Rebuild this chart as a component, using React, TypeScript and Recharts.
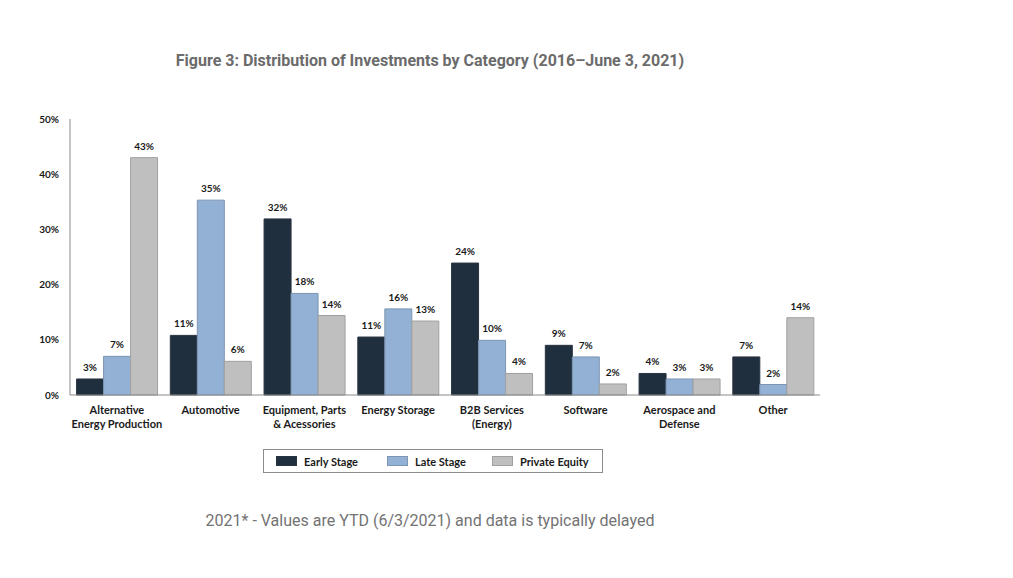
import React from "react";
import { BarChart, Bar, XAxis, YAxis, Legend, LabelList } from "recharts";

const categories = [
  "Alternative\nEnergy Production",
  "Automotive",
  "Equipment, Parts\n& Acessories",
  "Energy Storage",
  "B2B Services\n(Energy)",
  "Software",
  "Aerospace and\nDefense",
  "Other",
];
const earlyStage = [2.9, 10.8, 31.9, 10.5, 23.9, 9.0, 3.9, 6.9];
const lateStage = [7.0, 35.3, 18.4, 15.6, 9.9, 6.9, 2.9, 1.9];
const privateEquity = [43.0, 6.1, 14.4, 13.4, 3.9, 2.0, 2.9, 14.0];
const yTicks = [0, 10, 20, 30, 40, 50];
const seriesNames = ["Early Stage", "Late Stage", "Private Equity"];

const data = categories.map((c, i) => ({
  category: c,
  early: earlyStage[i],
  late: lateStage[i],
  pe: privateEquity[i],
}));

const FONT = "Lato, 'Open Sans', sans-serif";

const XTick = (props: any) => {
  const { x, y, payload } = props;
  const lines = String(payload.value).split("\n");
  return (
    <text x={x} y={y} textAnchor="middle" fontFamily={FONT} fontWeight={700} fontSize={11} fill="#1a1a1a">
      {lines.map((l: string, i: number) => (
        <tspan key={i} x={x} dy={i === 0 ? 11 : 14}>
          {l}
        </tspan>
      ))}
    </text>
  );
};

const colors = ["#1f2f3e", "#93b1d4", "#bfbfbf"];
const strokes = ["#2a3440", "#7d95b3", "#a0a0a0"];
const legendLefts = [12, 123, 228];

const LegendContent = () => (
  <div
    style={{
      position: "relative",
      width: 338,
      height: 22,
      border: "1px solid #8c8c8c",
      fontFamily: FONT,
      fontWeight: 700,
      fontSize: 11,
      color: "#1a1a1a",
    }}
  >
    {seriesNames.map((n, i) => (
      <div
        key={n}
        style={{ position: "absolute", left: legendLefts[i], top: 0, height: 22, display: "flex", alignItems: "center", whiteSpace: "nowrap" }}
      >
        <span
          style={{
            display: "inline-block",
            width: 19,
            height: 8,
            background: colors[i],
            border: `1px solid ${strokes[i]}`,
            marginRight: 7,
          }}
        />
        {n}
      </div>
    ))}
  </div>
);

const fmt = (v: any) => `${Math.round(Number(v))}%`;

export default function App() {
  return (
    <div style={{ position: "absolute", left: 0, top: 0, width: 1013, height: 578, background: "#fff" }}>
      <div
        style={{
          position: "absolute",
          left: 0,
          width: 860,
          top: 51,
          textAlign: "center",
          fontFamily: "Roboto, sans-serif",
          fontWeight: 700,
          fontSize: 16,
          color: "#6b6b6b",
        }}
      >
        Figure 3: Distribution of Investments by Category (2016–June 3, 2021)
      </div>
      <BarChart
        width={1013}
        height={578}
        data={data}
        margin={{ top: 119, right: 193, bottom: 105, left: 0 }}
        barCategoryGap="7%"
        barGap={0}
      >
        <YAxis
          domain={[0, 50]}
          ticks={yTicks}
          width={70}
          tickFormatter={(v) => `${v}%`}
          axisLine={{ stroke: "#8a8a8a" }}
          tickLine={false}
          tickSize={0}
          tickMargin={11}
          tick={{ fontFamily: FONT, fontWeight: 700, fontSize: 10, fill: "#1a1a1a" }}
          interval={0}
        />
        <XAxis
          dataKey="category"
          height={54}
          interval={0}
          axisLine={{ stroke: "#8a8a8a" }}
          tickLine={false}
          tick={<XTick />}
        />
        <Legend
          verticalAlign="bottom"
          height={24}
          content={<LegendContent />}
          wrapperStyle={{ left: 263, width: 340 }}
        />
        <Bar dataKey="early" name={seriesNames[0]} fill={colors[0]} stroke={strokes[0]} strokeWidth={1} isAnimationActive={false}>
          <LabelList dataKey="early" position="top" offset={8} formatter={fmt} style={{ fontFamily: FONT, fontWeight: 700, fontSize: 10, fill: "#1a1a1a" }} />
        </Bar>
        <Bar dataKey="late" name={seriesNames[1]} fill={colors[1]} stroke={strokes[1]} strokeWidth={1} isAnimationActive={false}>
          <LabelList dataKey="late" position="top" offset={8} formatter={fmt} style={{ fontFamily: FONT, fontWeight: 700, fontSize: 10, fill: "#1a1a1a" }} />
        </Bar>
        <Bar dataKey="pe" name={seriesNames[2]} fill={colors[2]} stroke={strokes[2]} strokeWidth={1} isAnimationActive={false}>
          <LabelList dataKey="pe" position="top" offset={8} formatter={fmt} style={{ fontFamily: FONT, fontWeight: 700, fontSize: 10, fill: "#1a1a1a" }} />
        </Bar>
      </BarChart>
      <div
        style={{
          position: "absolute",
          left: 0,
          width: 860,
          top: 511,
          textAlign: "center",
          fontFamily: "Roboto, sans-serif",
          fontSize: 16,
          color: "#737373",
        }}
      >
        2021* - Values are YTD (6/3/2021) and data is typically delayed
      </div>
    </div>
  );
}
